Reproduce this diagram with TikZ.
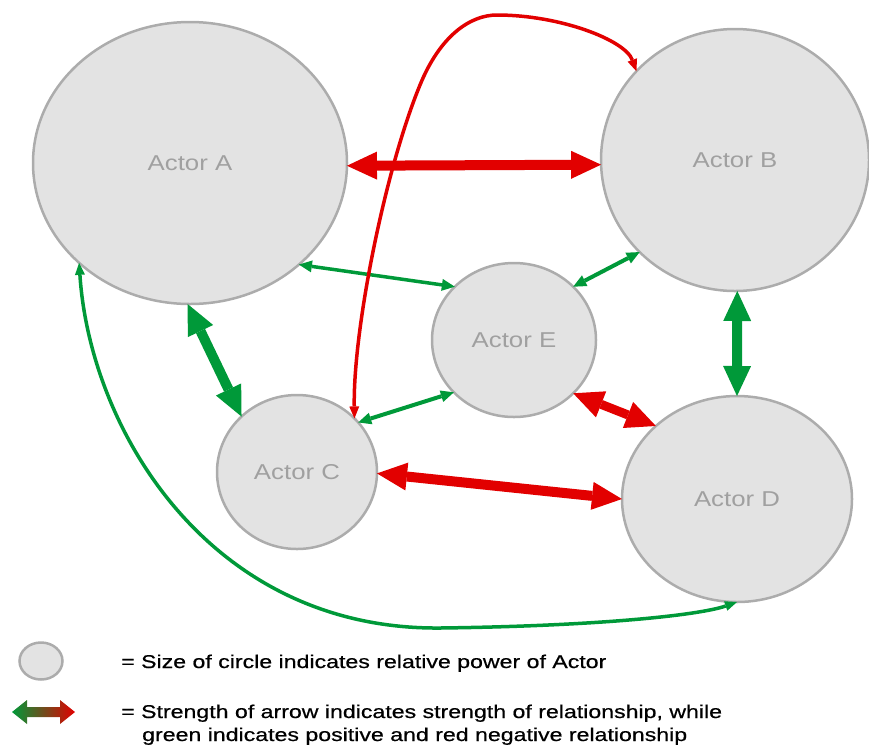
\documentclass[tikz,border=0pt]{standalone}
\usepackage{fontspec}
\setmainfont{Liberation Sans}
\newfontfamily\actorfont[FakeStretch=1.2]{Liberation Sans}
\newfontfamily\keyfont[FakeStretch=1.25,FakeBold=0.6]{Liberation Sans}
\usetikzlibrary{arrows.meta,shapes.geometric}

\definecolor{actorfill}{RGB}{227,227,227}
\definecolor{actorline}{RGB}{172,172,172}
\definecolor{actortext}{RGB}{160,160,160}
\definecolor{posgreen}{RGB}{0,153,57}
\definecolor{negred}{RGB}{226,0,0}

\tikzset{
  actor/.style={ellipse, draw=actorline, line width=2.5pt, fill=actorfill,
    inner sep=0pt, outer sep=0pt, text=actortext,
    font=\actorfont\fontsize{21.5}{26}\selectfont},
  heavyrel/.style={line width=10pt, >={Triangle[length=30pt,width=28pt,line width=0pt]}, <->},
  lightrel/.style={line width=4pt, >={Triangle[length=13pt,width=12pt,line width=0pt]}, <->},
  onewayrel/.style={line width=3.5pt, >={Triangle[length=12pt,width=10pt,line width=0pt]}, <->},
  keytext/.style={anchor=base west, inner sep=0pt, text=black,
    font=\keyfont\fontsize{18.5}{22}\selectfont},
}

\begin{document}
\begin{tikzpicture}[x=1pt,y=-1pt]
\useasboundingbox (0,0) rectangle (869,748);

% actors, sized by power
\node[actor, minimum width=314pt, minimum height=282pt] (A) at (190,163) {Actor A};
\node[actor, minimum width=268pt, minimum height=262pt] (B) at (735,160) {Actor B};
\node[actor, minimum width=164pt, minimum height=154pt] (E) at (514,340) {Actor E};
\node[actor, minimum width=160pt, minimum height=154pt] (C) at (297,472) {Actor C};
\node[actor, minimum width=230pt, minimum height=206pt] (D) at (737,499) {Actor D};

% strong relationships
\draw[heavyrel, negred]   (A.-1)  -- (B.182);
\draw[heavyrel, posgreen] (A.-91) -- (C.135.5);
\draw[heavyrel, posgreen] (B.-89) -- (D.90);
\draw[heavyrel, negred]   (C.-1)  -- (D.180);
\draw[heavyrel, negred, line width=9pt] (E.-42) -- (D.138);

% weak relationships
\draw[lightrel, posgreen, line width=3.5pt] (A.-43) -- (E.138);
\draw[lightrel, posgreen] (E.42) -- (B.224);
\draw[lightrel, posgreen] (C.39) -- (E.221);

% long curved links
\draw[onewayrel, negred] (C.43) .. controls (353,330) and (385,170) .. (420,85)
  .. controls (440,36) and (470,15) .. (497,15)
  .. controls (560,15) and (625,40) .. (B.138);
\draw[onewayrel, posgreen] (A.222) .. controls (90,430) and (210,630) .. (440,628)
  .. controls (600,626) and (700,615) .. (D.-90);

% key
\node[actor, minimum width=43pt, minimum height=37pt] (key) at (41,661) {};
\shade[left color=posgreen, right color=negred]
  (12,712) -- (27,700) -- (27,707) -- (60,707) -- (60,700) -- (75,712)
  -- (60,724) -- (60,717) -- (27,717) -- (27,724) -- cycle;
\node[keytext] (k1) at (121,668) {= Size of circle indicates relative power of Actor};
\node[keytext] (k2) at (121,718) {= Strength of arrow indicates strength of relationship, while};
\node[keytext] (k3) at (142,741) {green indicates positive and red negative relationship};
\end{tikzpicture}
\end{document}
